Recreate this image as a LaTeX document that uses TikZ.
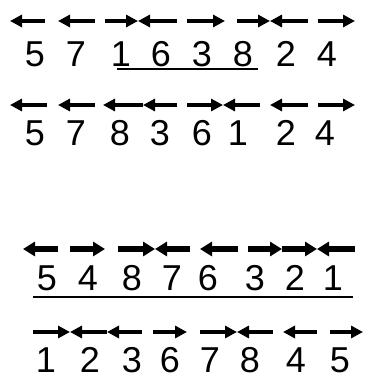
\documentclass[tikz,border=0pt]{standalone}
\usepackage{fontspec}
\setmainfont{Liberation Sans}
\usetikzlibrary{arrows.meta}
\tikzset{
  digit/.style={inner sep=0pt, anchor=base, font=\fontsize{36}{36}\selectfont},
  thinarr/.style={line width=4pt, -{Triangle[length=12pt,width=12pt]}},
  boldarr/.style={line width=6.5pt, -{Triangle[length=12pt,width=14pt]}},
  uline/.style={line width=1.2pt}
}
\begin{document}
\begin{tikzpicture}[x=1pt,y=-1pt]
\useasboundingbox (0,0) rectangle (365,375);
% row 1
\foreach \a/\b in {45/10,95/58,105/138,177/138,187/225,237/270,308/270,318/355}
  \draw[thinarr] (\a,21) -- (\b,21);
\foreach \x/\d [count=\i] in {35/5,76/7,121/1,161/6,202/3,243/8,286/2,327/4}
  \node[digit] (ra\i) at (\x,66) {\d};
\draw[uline] (117,69) -- (258,69);
% row 2
\foreach \a/\b in {47/10,95/58,143/103,177/143,187/223,260/223,308/270,318/355}
  \draw[thinarr] (\a,105) -- (\b,105);
\foreach \x/\d [count=\i] in {35/5,76/7,120/8,160/3,202/6,238/1,286/2,325/4}
  \node[digit] (rb\i) at (\x,145) {\d};
% row 3
\foreach \a/\b in {58/23,70/105,118/155,190/155,238/200,248/282,282/317,355/317}
  \draw[boldarr] (\a,249) -- (\b,249);
\foreach \x/\d [count=\i] in {47/5,88/4,132/8,172/7,208/6,255/3,295/2,333/1}
  \node[digit] (rc\i) at (\x,290) {\d};
\draw[uline] (33,297) -- (353,297);
% row 4
\foreach \a/\b in {33/70,107/70,142/107,153/187,200/237,273/237,317/283,330/363}
  \draw[thinarr] (\a,332) -- (\b,332);
\foreach \x/\d [count=\i] in {46/1,90/2,132/3,170/6,210/7,250/8,296/4,340/5}
  \node[digit] (rd\i) at (\x,372) {\d};
\end{tikzpicture}
\end{document}
